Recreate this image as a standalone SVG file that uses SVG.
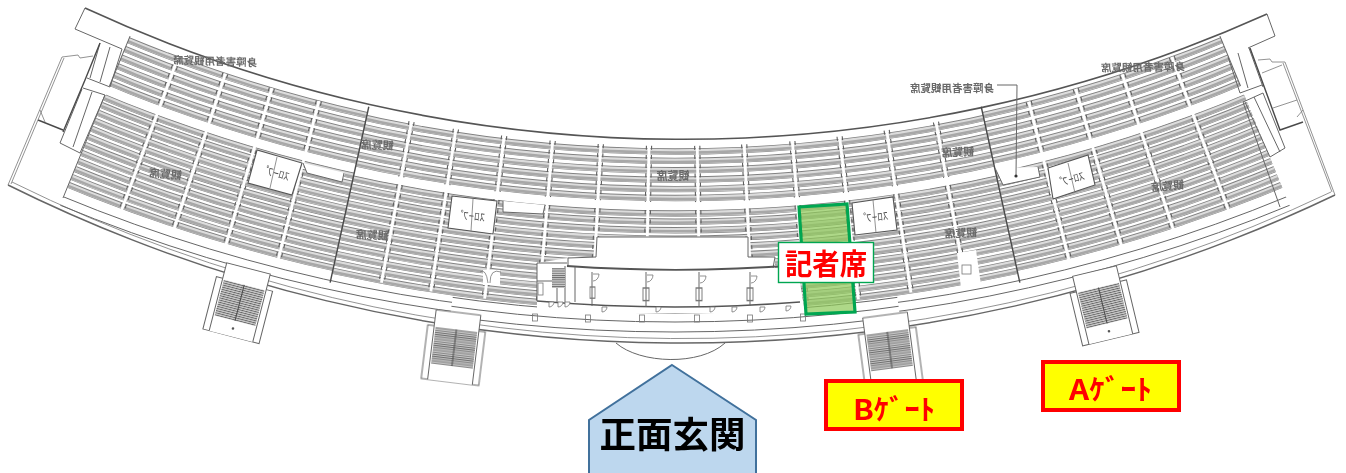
<svg xmlns="http://www.w3.org/2000/svg" width="1346" height="473" viewBox="0 0 1346 473">
<style>
text{font-family:"Noto Sans CJK JP","Liberation Sans",sans-serif}
circle{fill:none}
.a{stroke:#808080;stroke-width:6.4}
.b{stroke:#dcdcdc;stroke-width:5}
.c{stroke:#a8a8a8;stroke-width:2.6}
.l{fill:none;stroke:#666;stroke-width:1}
.t{fill:none;stroke:#777;stroke-width:.8}
.k{fill:none;stroke:#4a4a4a;stroke-width:1.4}
.w{fill:#fff;stroke:#555;stroke-width:1.1}
.m{fill:#6a6a6a;font-size:11px;font-weight:700;text-anchor:middle}
.s{fill:#555;font-size:11px;text-anchor:middle}
.g{fill:#ff0;stroke:#f00;stroke-width:4}
.gt{fill:#f00;font-size:28px;font-weight:700}
</style>
<defs>
<filter id="soft" filterUnits="userSpaceOnUse" x="0" y="0" width="1346" height="473"><feGaussianBlur stdDeviation=".35"/></filter>
<clipPath id="cSide"><polygon points="675,-1286 -87,563 246,667"/><polygon points="675,-1286 1104,667 1437,563"/></clipPath>
<clipPath id="cMid"><polygon points="675,-1286 246,667 1104,667"/></clipPath>
<clipPath id="cSide2"><polygon points="675,-1286 -87,563 397,694"/><polygon points="675,-1286 953,694 1437,563"/></clipPath>
<clipPath id="cMid2"><polygon points="675,-1286 397,694 953,694"/></clipPath>
<pattern id="hatch" width="6" height="2.2" patternUnits="userSpaceOnUse"><rect width="6" height="2.2" fill="#ccc"/><rect width="6" height=".9" fill="#666"/></pattern>
<g id="rows" transform="translate(675 -1286)">
<g class="a"><circle r="1434.5"/><circle r="1443.9"/><circle r="1453.3"/><circle r="1462.7"/><circle r="1472.1"/><circle r="1481"/><circle r="1496.5"/><circle r="1504.7"/><circle r="1513.2"/><circle r="1521.8"/><circle r="1530.3"/><circle r="1539"/><circle r="1547.7"/><circle r="1556.4"/><circle r="1565.1"/><circle r="1573.8"/><circle r="1582.5"/><circle r="1591"/></g>
<g class="b"><circle r="1434.7"/><circle r="1444.1"/><circle r="1453.5"/><circle r="1462.9"/><circle r="1472.3"/><circle r="1481.2"/><circle r="1496.7"/><circle r="1504.9"/><circle r="1513.4"/><circle r="1522"/><circle r="1530.5"/><circle r="1539.2"/><circle r="1547.9"/><circle r="1556.6"/><circle r="1565.3"/><circle r="1574"/><circle r="1582.7"/><circle r="1591.2"/></g>
<g class="c"><circle r="1435.6"/><circle r="1445"/><circle r="1454.4"/><circle r="1463.8"/><circle r="1473.2"/><circle r="1482.1"/><circle r="1497.6"/><circle r="1505.8"/><circle r="1514.3"/><circle r="1522.9"/><circle r="1531.4"/><circle r="1540.1"/><circle r="1548.8"/><circle r="1557.5"/><circle r="1566.2"/><circle r="1574.9"/><circle r="1583.6"/><circle r="1592.1"/></g>
</g>
<g id="ais"><rect x="673.6" y="146" width="2.8" height="164" fill="#fff"/><path d="M672.4 146V310M677.6 146V310" fill="none" stroke="#5e5e5e" stroke-width="1.1" stroke-dasharray="4 5.2"/></g>
<g id="gate">
<rect x="-29" y="16" width="58" height="54" class="l" style="fill:#fff"/>
<rect x="-22.5" y="0" width="45" height="70" fill="#fff"/>
<path d="M-22.5 70V0H22.5V70" class="l"/>
<rect x="-21" y="17" width="42" height="37" fill="url(#hatch)"/>
<path d="M0 17V54" class="k" style="stroke-width:1"/>
</g>
<path id="dr" d="M0 0h6a6 7 0 0 1-6 7" class="t"/>
<path id="dw" d="M0 0v5a5 5 0 0 0 5-5z" class="t" style="fill:#fff"/>
<g id="cp"><rect x="-2.5" y="0" width="5" height="7" fill="#fff" class="t"/></g>
</defs>

<rect width="1346" height="473" fill="#fff"/>

<g id="plan" filter="url(#soft)">
<g id="seats">
<g clip-path="url(#cSide)"><use href="#rows"/></g>
<g clip-path="url(#cMid)"><use href="#rows" y="3"/></g>
<g id="aisles">
<use href="#ais" transform="rotate(14.4 675 -1286)"/><use href="#ais" transform="rotate(16.35 675 -1286)"/><use href="#ais" transform="rotate(18.3 675 -1286)"/><use href="#ais" transform="rotate(20.3 675 -1286)"/>
<use href="#ais" transform="rotate(10.6 675 -1286)"/><use href="#ais" transform="rotate(8.8 675 -1286)"/><use href="#ais" transform="rotate(6.85 675 -1286)"/><use href="#ais" transform="rotate(4.9 675 -1286)"/><use href="#ais" transform="rotate(2.97 675 -1286)"/><use href="#ais" transform="rotate(1.04 675 -1286)"/>
<use href="#ais" transform="rotate(-.89 675 -1286)"/><use href="#ais" transform="rotate(-2.77 675 -1286)"/><use href="#ais" transform="rotate(-4.7 675 -1286)"/><use href="#ais" transform="rotate(-6.6 675 -1286)"/><use href="#ais" transform="rotate(-8.5 675 -1286)"/><use href="#ais" transform="rotate(-10.5 675 -1286)"/>
<use href="#ais" transform="rotate(-14.3 675 -1286)"/><use href="#ais" transform="rotate(-16.25 675 -1286)"/><use href="#ais" transform="rotate(-18.2 675 -1286)"/><use href="#ais" transform="rotate(-20.3 675 -1286)"/>
</g>
<g clip-path="url(#cSide)"><circle cx="675" cy="-1286" r="1489" stroke="#fff" stroke-width="7.5"/></g>
<g clip-path="url(#cMid)"><circle cx="675" cy="-1283" r="1489" stroke="#fff" stroke-width="7.5"/></g>
</g>

<g id="walls">
<path d="M85 8A1426 1426 0 0 0 1267 14" fill="none" stroke="#555" stroke-width="1.6"/>
<path d="M8 185A1515 1515 0 0 0 1335 195" fill="none" stroke="#666" stroke-width="1.4"/>
<path d="M12 182A1511 1511 0 0 0 1331 192" class="t"/>
<g clip-path="url(#cSide2)"><circle cx="675" cy="-1286" r="1604" class="l"/><circle cx="675" cy="-1286" r="1613" class="l"/></g>
<g clip-path="url(#cMid2)"><circle cx="675" cy="-1286" r="1599" class="l"/><circle cx="675" cy="-1286" r="1608" class="l"/><circle cx="675" cy="-1286" r="1618" class="l"/></g>
<g id="dividers">
<line x1="675" x2="675" y1="140" y2="320" class="k" transform="rotate(12.4 675 -1286)"/>
<line x1="675" x2="675" y1="140" y2="320" class="k" transform="rotate(-12.4 675 -1286)"/>
<line x1="675" x2="675" y1="144" y2="198" class="l" transform="rotate(22.4 675 -1286)"/>
<line x1="675" x2="675" y1="144" y2="198" class="l" transform="rotate(-22.4 675 -1286)"/>
</g>
<path d="M105 95L63 198M1243 102L1280 207" class="l"/>
<g id="left-end">
<path d="M85 8L75 29L122 49M100 43L90 78M110 47L100 82M122 49L110 87M87 78L110 87M83 88L105 95M82 89L60 143L80 153L105 95M92 92L73 147" class="l"/>
<path d="M100 43L85 80L63 132M38 120L63 130" class="k"/>
<path d="M62 57L8 185M64 58L11 184" class="t"/>
<path d="M62 57L78 55L80 58L93 56M40 110L45 122" class="t"/>
</g>
<g id="right-end">
<path d="M1267 14L1275 36L1248 48M1228 57L1240 93M1238 53L1248 88M1249 48L1263 87M1240 93L1262 85M1243 102L1263 93L1285 148L1270 157L1245 102M1254 97L1280 152" class="l"/>
<path d="M1250 48L1280 130L1303 122" class="k"/>
<path d="M1285 62L1335 195M1283 63L1332 192" class="t"/>
<path d="M1258 60L1270 59L1272 62L1285 62M1282 65L1262 73M1273 108L1297 100M1297 117L1303 110" class="t"/>
</g>
</g>

<g id="cutouts">
<polygon points="597,237 748,237 748,257 775,257 775,268 798,270 805,313 537,313 537,263 568,258 596,257" fill="#fff"/>
<path d="M568 266V258L596 257L597 237H748V257L775 257L773 268" class="l"/>
<path d="M537 263H567" class="l"/>
<path d="M567 266A1556 1556 0 0 0 798 265" fill="none" stroke="#555" stroke-width="1.8"/>
<path d="M537 301A1593 1593 0 0 0 800 302" fill="none" stroke="#555" stroke-width="1.4"/>
<path d="M537 263V301M565 266V302M575 267V302M537 281H552M557 286V302" class="l"/>
<rect x="552" y="268" width="13" height="20" fill="url(#hatch)"/>
<rect x="538" y="283" width="5" height="12" fill="#fff" class="t"/>
<path d="M592 272V306M646 272V307M699 272V307M750 272V306" class="l"/>
<use href="#cp" transform="translate(592.5 287) scale(1 1.6)"/><use href="#cp" transform="translate(646 288) scale(1.2 1.8)"/><use href="#cp" transform="translate(699 288) scale(1.2 1.8)"/><use href="#cp" transform="translate(750 288) scale(1.2 1.8)"/>
<use href="#dr" x="593" y="274"/><use href="#dr" x="647" y="275"/><use href="#dr" x="700" y="276"/><use href="#dr" x="751" y="276"/>
<use href="#dw" x="602" y="307"/><use href="#dw" x="656" y="307"/><use href="#dw" x="710" y="307"/><use href="#dw" x="732" y="307"/><use href="#dw" x="760" y="307"/><use href="#dw" x="786" y="306"/>
<use href="#dw" x="549" y="302"/><use href="#dw" x="558" y="302"/><use href="#dw" x="565" y="302"/>
<use href="#cp" x="535" y="314"/><use href="#cp" x="588" y="315"/><use href="#cp" x="642" y="315"/><use href="#cp" x="697" y="315"/><use href="#cp" x="750" y="315"/><use href="#cp" x="803" y="314"/>
<path d="M616 343C640 364 700 366 725 343" class="l"/>

<g id="slope-1"><polygon points="257,150 248,183 292,195 302,163" class="w"/><path d="M277 157L270 188" class="t"/><polygon points="303,163 307,173 342,182 345,173" fill="#fff"/><path d="M303 163L307 173L342 182L344 173" class="l"/><text class="s" transform="translate(275 177) rotate(16) scale(-1 1)">ｽﾛｰﾌﾟ</text></g>
<g id="slope-2"><polygon points="452,196 448,228 493,234 497,201" class="w"/><path d="M473 199L471 231" class="t"/><polygon points="503,201 503,212 543,214 545,205" fill="#fff"/><path d="M503 201L503 212L543 214L545 205" class="l"/><text class="s" transform="translate(471 220) rotate(6) scale(-1 1)">ｽﾛｰﾌﾟ</text></g>
<g id="slope-3"><polygon points="852,203 893,197 897,230 855,235" class="w"/><path d="M873 200L876 233" class="t"/><text class="s" transform="translate(875 221) rotate(-6) scale(-1 1)">ｽﾛｰﾌﾟ</text></g>
<g id="slope-4"><polygon points="1048,168 1088,155 1095,185 1053,199" class="w"/><path d="M1068 163L1075 193" class="t"/><polygon points="995,168 1003,185 1040,177 1038,167" fill="#fff"/><path d="M995 168L1003 185L1040 177L1038 167" class="l"/><text class="s" transform="translate(1072 183) rotate(-16) scale(-1 1)">ｽﾛｰﾌﾟ</text></g>
<polygon points="957,253 976,250 981,285 961,288" fill="#fff"/><rect x="962" y="265" width="9" height="9" class="t"/>
<path d="M483 270H500V285H483zM492 270V285" fill="#fff" stroke="none"/><path d="M480 272Q486 268 488 283M490 283Q490 268 501 272" class="t"/>
</g>

<g id="seat-labels">
<text class="m" transform="translate(165 178) rotate(5) scale(-1 1)">観覧席</text>
<text class="m" transform="translate(377 149) rotate(3) scale(-1 1)">観覧席</text>
<text class="m" transform="translate(372 239) rotate(3) scale(-1 1)">観覧席</text>
<text class="m" transform="translate(673 180) scale(-1 1)">観覧席</text>
<text class="m" transform="translate(958 156) rotate(-3) scale(-1 1)">観覧席</text>
<text class="m" transform="translate(961 237) rotate(-3) scale(-1 1)">観覧席</text>
<text class="m" transform="translate(1168 190) rotate(-5) scale(-1 1)">観覧席</text>
<text class="m" style="font-size:10.5px" transform="translate(215 65) rotate(2) scale(-1 1)">身障害者用観覧席</text>
<text class="m" style="font-size:10.5px" transform="translate(952 92) scale(-1 1)">身障害者用観覧席</text>
<text class="m" style="font-size:10.5px" transform="translate(1143 71) rotate(-1) scale(-1 1)">身障害者用観覧席</text>
<path d="M997 85H1017L1016 176" class="l"/><circle cx="1016" cy="176" r="1.6" style="fill:#333"/>
</g>

<g id="gates">
<g id="gate-1" transform="translate(248.5 268.5) rotate(14.5)"><use href="#gate"/><circle cy="62" r="1.3" style="fill:#555"/></g>
<g id="gate-2" transform="translate(458.5 312.5) rotate(7)"><use href="#gate"/></g>
<g id="gate-3" transform="translate(885 315) rotate(-7.5)"><use href="#gate"/></g>
<g id="gate-4" transform="translate(1094.5 271) rotate(-13.5)"><use href="#gate"/><circle cy="62" r="1.3" style="fill:#555"/></g>
</g>
</g>

<g id="press-seats">
<polygon points="799,207 847,204 855,312 806,314" fill="#8fc95a" fill-opacity=".72" stroke="#00a651" stroke-width="3.2"/>
<rect x="778.5" y="242.5" width="95" height="40" fill="#fff" stroke="#00a651" stroke-width="1.4"/>
<text x="826" y="275" text-anchor="middle" fill="#f00" font-size="29" font-weight="700" textLength="82" lengthAdjust="spacingAndGlyphs">記者席</text>
</g>
<g id="gate-b"><rect x="826" y="381" width="136" height="48" class="g"/><text class="gt" x="853" y="420" textLength="82" lengthAdjust="spacingAndGlyphs">Bｹﾞｰﾄ</text></g>
<g id="gate-a"><rect x="1043" y="362" width="136" height="48" class="g"/><text class="gt" x="1069" y="400" textLength="83" lengthAdjust="spacingAndGlyphs">Aｹﾞｰﾄ</text></g>
<g id="main-entrance">
<polygon points="672,365 756,420 756,475 589,475 589,420" fill="#bdd7ee" stroke="#41719c" stroke-width="2"/>
<text x="672.5" y="448" text-anchor="middle" fill="#000" font-size="36" font-weight="700" textLength="146" lengthAdjust="spacingAndGlyphs">正面玄関</text>
</g>
</svg>
